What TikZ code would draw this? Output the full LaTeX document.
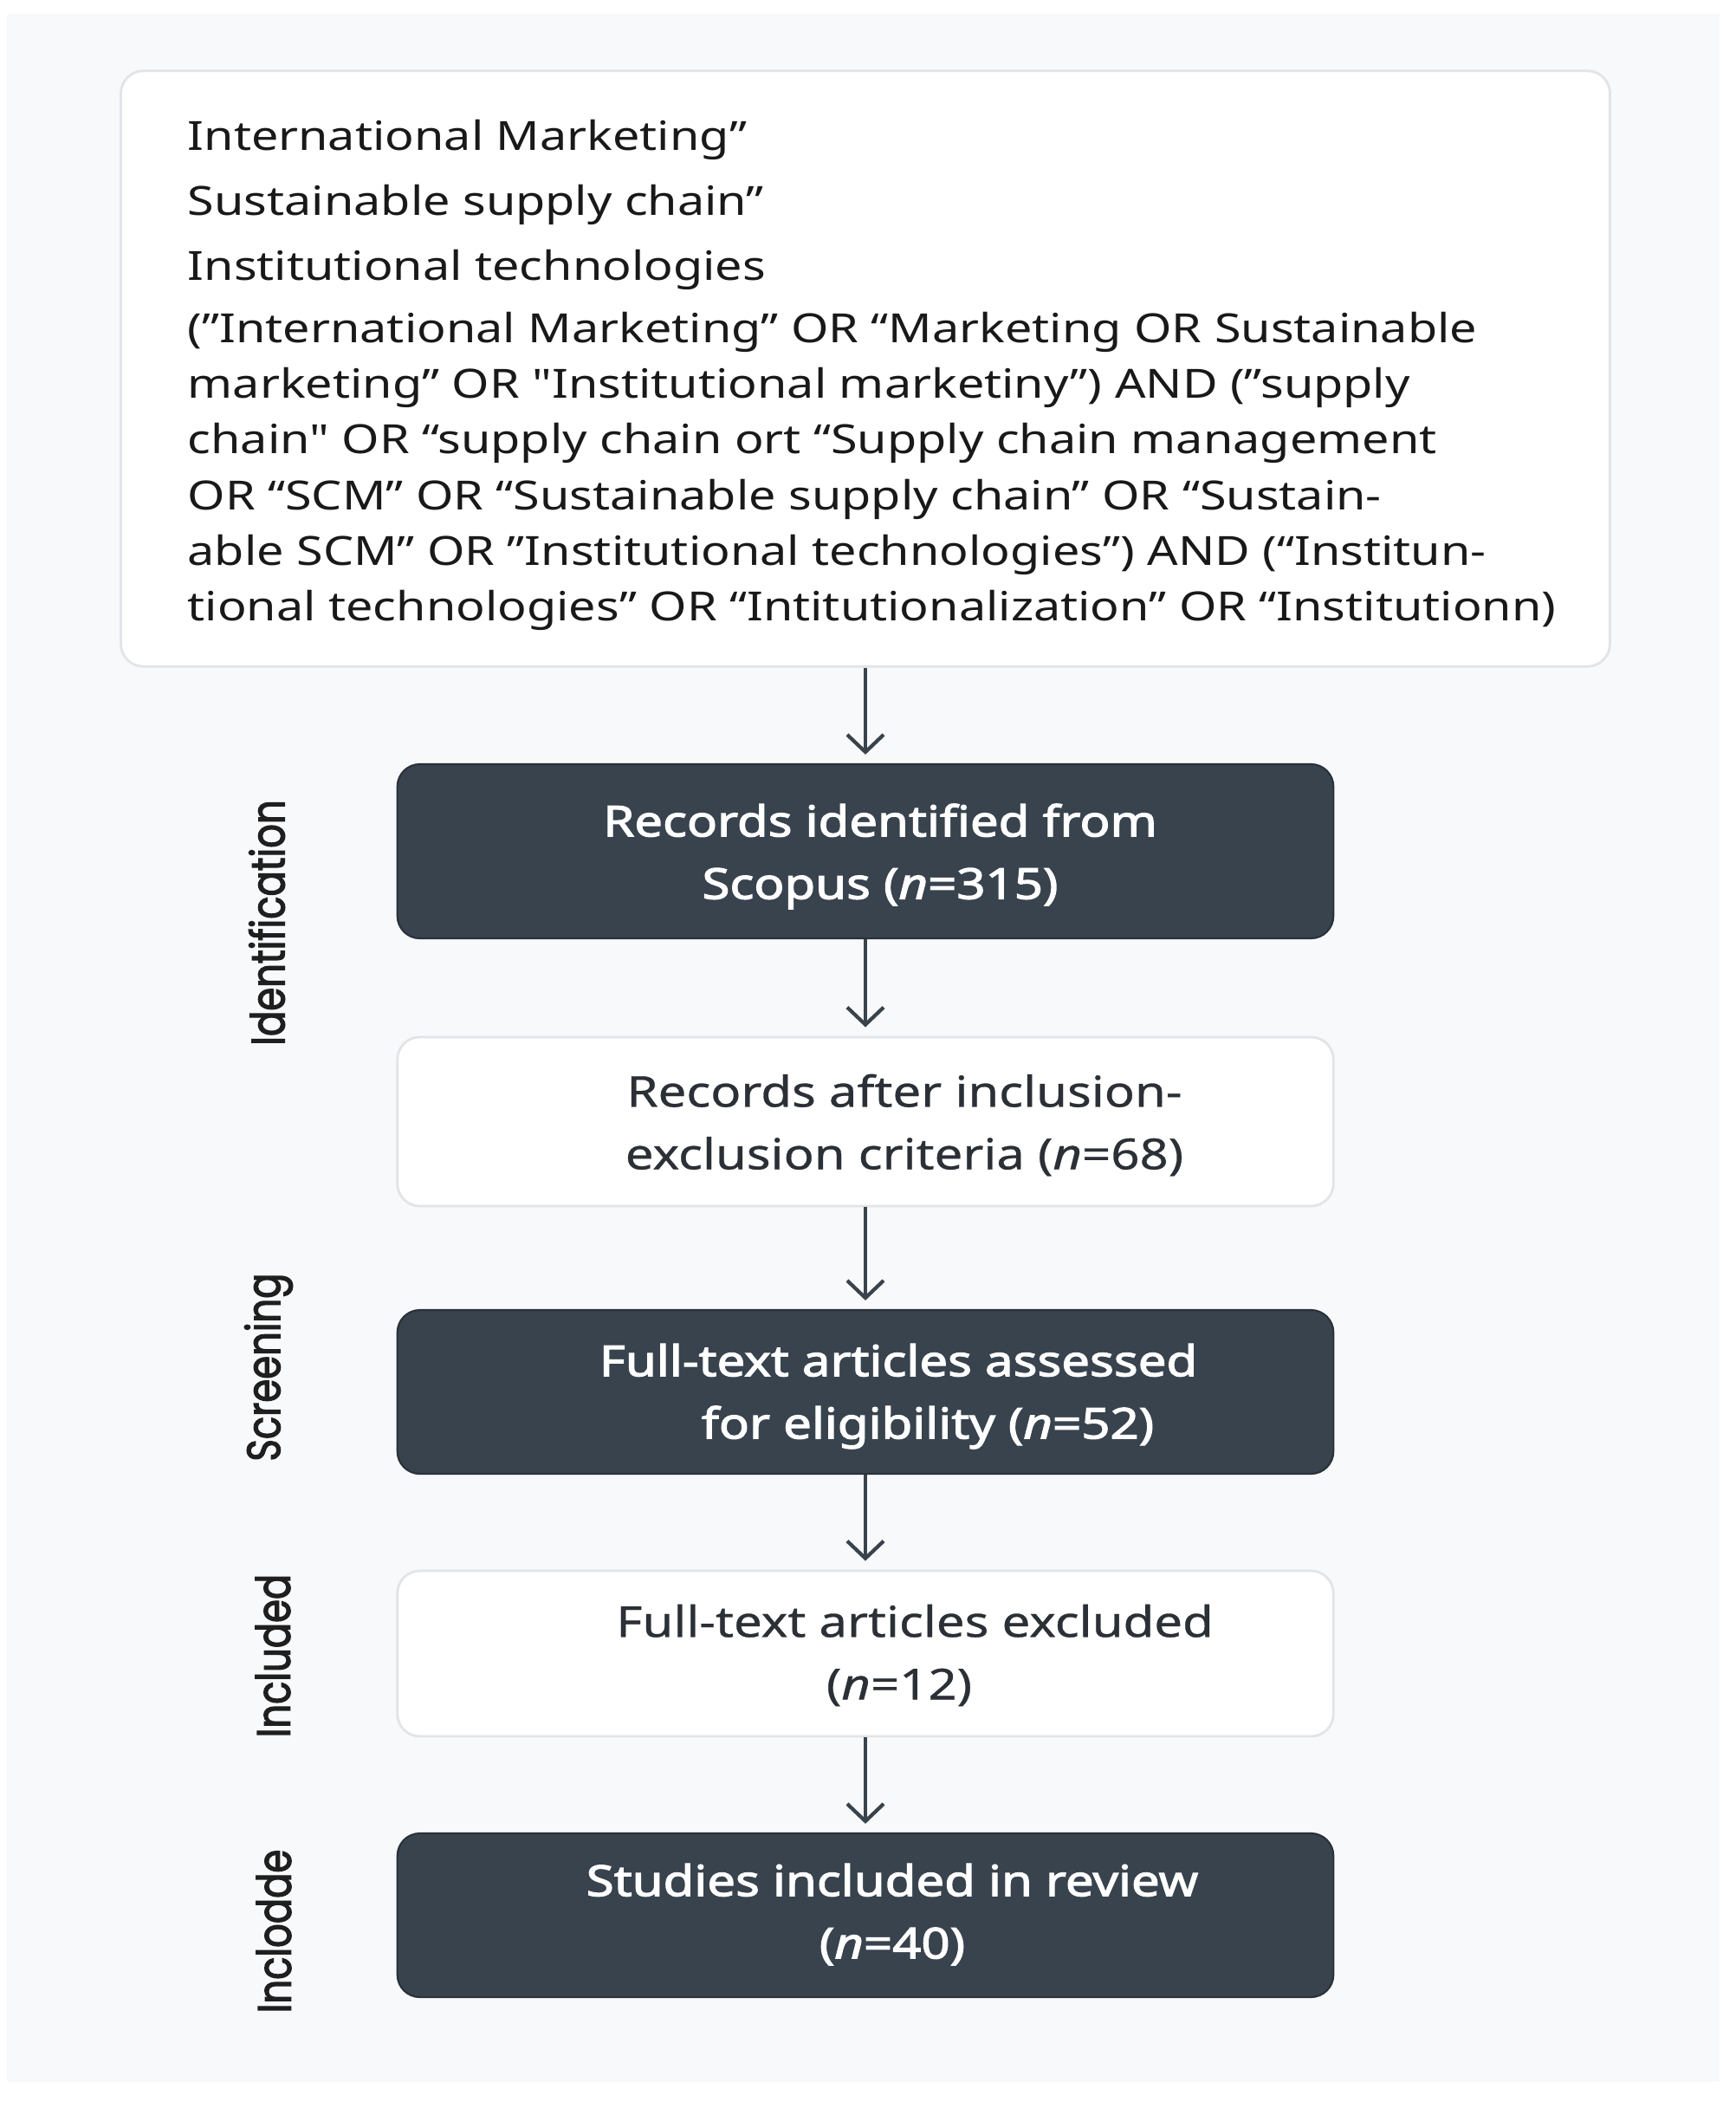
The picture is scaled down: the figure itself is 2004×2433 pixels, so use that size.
\documentclass[tikz,border=0pt]{standalone}
\usepackage{fontspec}
\setmainfont{Noto Sans}
\newfontfamily\termfont{Noto Sans}[FakeStretch=1.2]
\newfontfamily\strongfont{Noto Sans}[FakeStretch=1.18,FakeBold=2.4]
\newfontfamily\plainfont{Noto Sans}[FakeStretch=1.18,FakeBold=0.6]
\newfontfamily\phasefont{Poppins}[FakeStretch=0.8,FakeBold=2.2]
\usetikzlibrary{arrows.meta,positioning}

\definecolor{pagebg}{HTML}{F8F9FB}
\definecolor{slate}{HTML}{38434E}
\definecolor{slateline}{HTML}{2A3139}
\definecolor{paleline}{HTML}{E1E4E8}
\definecolor{inkgray}{HTML}{2B3036}
\definecolor{arrowgray}{HTML}{3A434C}

\begin{document}
\begin{tikzpicture}[x=0.01cm,y=-0.01cm]
    \tikzstyle{darkbox}=[rectangle,rounded corners=0.26cm,fill=slate,draw=slateline,line width=0.6pt,minimum width=10.8cm]
    \tikzstyle{palebox}=[rectangle,rounded corners=0.26cm,fill=white,draw=paleline,line width=0.8pt,minimum width=10.8cm]
    \tikzstyle{boxtext}=[align=center,inner sep=0pt,text=inkgray,font=\plainfont\fontsize{14}{20.5}\selectfont]
    \tikzstyle{boldtext}=[boxtext,text=white,font=\strongfont\fontsize{14}{20.5}\selectfont]
    \tikzstyle{termtext}=[align=left,inner sep=0pt,anchor=north west,text=black!90]
    \tikzstyle{phase}=[rotate=90,inner sep=0pt,text=black!88,font=\phasefont\fontsize{15.4}{16}\selectfont]
    \tikzstyle{flow}=[draw=arrowgray,line width=1.2pt,shorten >=0.1cm,-{Straight Barb[length=0.2cm,width=0.42cm]}]

    \useasboundingbox (0,0) rectangle (2004,2433);
    \fill[pagebg] (8,16) rectangle (1985,2403);

    % search string
    \node[palebox,minimum width=17.18cm,minimum height=6.87cm] (terms) at (999,425.5) {};
    \node[termtext,font=\termfont\fontsize{13.2}{21.3}\selectfont] (keywords) at (216,138)
      {International Marketing”\\
       Sustainable supply chain”\\
       Institutional technologies};
    \node[termtext,font=\termfont\fontsize{13.2}{18.2}\selectfont] (query) at (216,360)
      {(”International Marketing” OR “Marketing OR Sustainable\\
       marketing” OR "Institutional marketiny”) AND (”supply\\
       chain" OR “supply chain ort “Supply chain management\\
       OR “SCM” OR “Sustainable supply chain” OR “Sustain-\\
       able SCM” OR ”Institutional technologies”) AND (“Institun-\\
       tional technologies” OR “Intitutionalization” OR “Institutionn)};

    % flow boxes
    \node[darkbox,minimum height=2.01cm] (scopus) at (999,982.5) {};
    \node[palebox,minimum height=1.95cm] (criteria) at (999,1294.5) {};
    \node[darkbox,minimum height=1.89cm] (assessed) at (999,1606.5) {};
    \node[palebox,minimum height=1.91cm] (excluded) at (999,1908.5) {};
    \node[darkbox,minimum height=1.89cm] (review) at (999,2210.5) {};

    \node[boldtext] (scopustxt) at ([xshift=0.17cm,yshift=-0.06cm]scopus.center)
      {Records identified from\\Scopus (\textit{n}=315)};
    \node[boxtext] (criteriatxt) at ([xshift=0.45cm,yshift=-0.04cm]criteria.center)
      {Records after inclusion-\\exclusion criteria (\textit{n}=68)};
    \node[boldtext] (assessedtxt) at ([xshift=0.38cm,yshift=-0.05cm]assessed.center)
      {Full-text articles assessed\\\hspace*{0.68cm}for eligibility (\textit{n}=52)};
    \node[boxtext] (excludedtxt) at ([xshift=0.57cm,yshift=-0.02cm]excluded.center)
      {Full-text articles excluded\\(\textit{n}=12)\hspace*{0.36cm}};
    \node[boldtext] (reviewtxt) at ([xshift=0.31cm,yshift=0.01cm]review.center)
      {Studies included in review\\(\textit{n}=40)};

    % phase labels
    \node[phase] (ident) at (308,1065) {Identification};
    \node[phase] (screen) at (310,1578) {Screening};
    \node[phase] (incl) at (315,1911) {Included};
    \node[phase] (incl2) at (316,2229) {Inclodde};

    \draw[flow] (terms) -- (scopus);
    \draw[flow] (scopus) -- (criteria);
    \draw[flow] (criteria) -- (assessed);
    \draw[flow] (assessed) -- (excluded);
    \draw[flow] (excluded) -- (review);
\end{tikzpicture}
\end{document}
